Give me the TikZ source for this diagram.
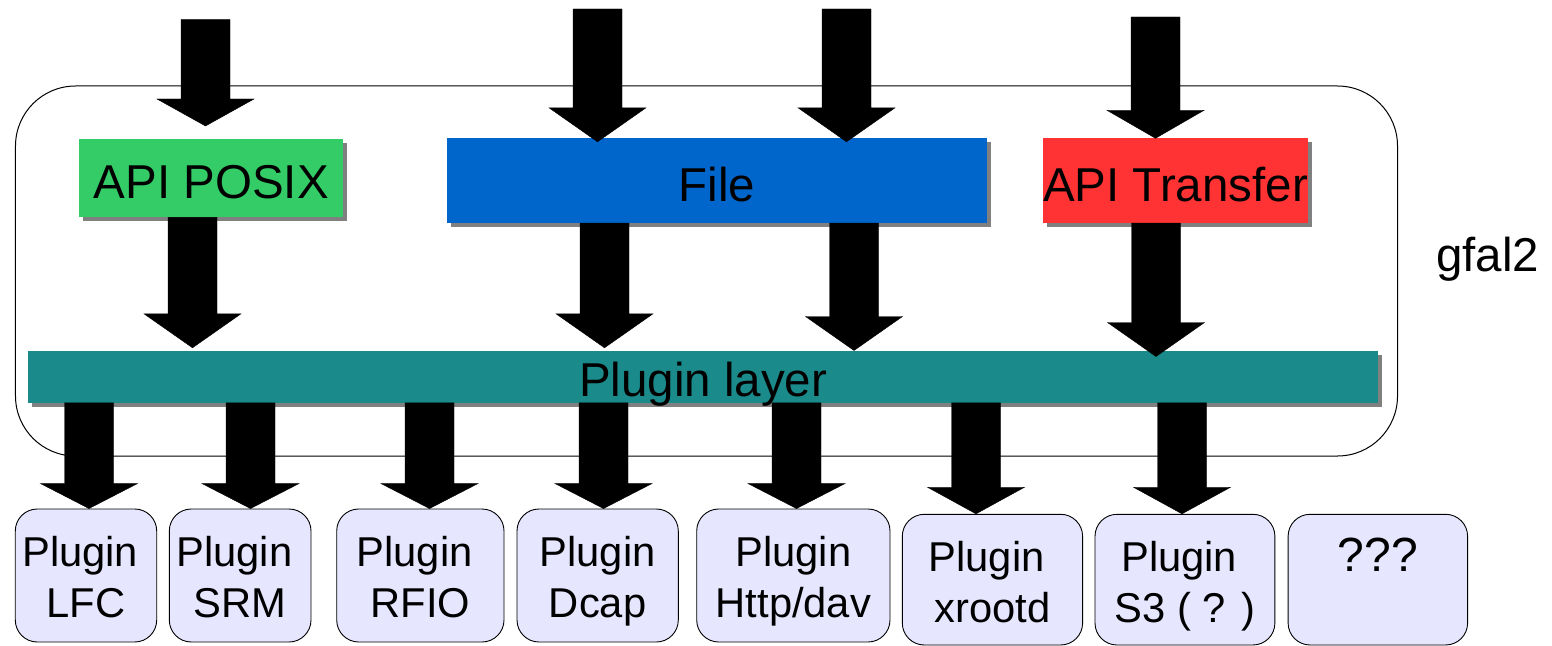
\documentclass[tikz,border=0pt]{standalone}
\usepackage{fontspec}
\setmainfont{Liberation Sans}
\usetikzlibrary{calc,shadows}
\definecolor{cgreen}{HTML}{33CC66}
\definecolor{cblue}{HTML}{0066CC}
\definecolor{cred}{HTML}{FF3333}
\definecolor{cteal}{HTML}{1A8A8A}
\definecolor{clav}{HTML}{E6E6FF}
\newcommand\plg{Plugin\phantom{\ }}
\begin{document}
\begin{tikzpicture}[x=1bp,y=-1bp,
  bigfont/.style={font=\fontsize{47.5bp}{57bp}\selectfont},
  layerbox/.style={bigfont, inner sep=0pt, text height=41bp, text depth=0pt,
    drop shadow={shadow xshift=4bp,shadow yshift=-4bp,fill=black!50,opacity=1}},
  plugbox/.style={draw=black, line width=0.9bp, fill=clav, rounded corners=22bp,
    inner sep=0pt, text height=0pt, text depth=18bp,
    font=\fontsize{41.7bp}{51bp}\selectfont},
  frame/.style={draw=black, line width=1bp, rounded corners=60bp, inner sep=0pt},
  fat/.style={draw=black, line width=0.4bp, fill=black,
    to path={let \p1=(\tikztostart), \p2=(\tikztotarget) in
      (\x1-24.5bp,\y1) -- (\x1+24.5bp,\y1) -- (\x1+24.5bp,\y2+#1bp) --
      (\x1+48.5bp,\y2+#1bp) -- (\x1,\y2) -- (\x1-48.5bp,\y2+#1bp) --
      (\x1-24.5bp,\y2+#1bp) -- cycle}},
  fat/.default=30]
\useasboundingbox (0,0) rectangle (1552,646);

% outer frame
\node[frame, minimum width=1382bp, minimum height=370bp] (gfalbox) at (706.5,271) {};
\node[bigfont, anchor=base, inner sep=0pt] (gfal) at (1487.5,271) {gfal2};

% API boxes
\node[layerbox, fill=cgreen, minimum width=264bp, minimum height=78bp] (posix) at (211.3,178.2) {API POSIX};
\node[layerbox, fill=cblue, minimum width=540bp, minimum height=84.5bp] (file) at (717,180.75) {File};
\node[layerbox, fill=cred, minimum width=265bp, minimum height=84.5bp] (transfer) at (1175.5,180.75) {\makebox[0pt][c]{API Transfer}};
\node[layerbox, fill=cteal, minimum width=1350bp, minimum height=52bp, text height=39bp] (layer) at (703.2,376.7) {Plugin layer};

% plugins
\node[plugbox, minimum width=141.4bp, minimum height=133bp] (p1) at (86,575.5)
  {\begin{tabular}[t]{@{}c@{}}\plg\\LFC\end{tabular}};
\node[plugbox, minimum width=141.7bp, minimum height=133bp] (p2) at (240.15,575.5)
  {\begin{tabular}[t]{@{}c@{}}\plg\\SRM\end{tabular}};
\node[plugbox, minimum width=167.3bp, minimum height=133bp] (p3) at (420.35,575.5)
  {\begin{tabular}[t]{@{}c@{}}\plg\\RFIO\end{tabular}};
\node[plugbox, minimum width=161.3bp, minimum height=133bp] (p4) at (597.65,575.5)
  {\begin{tabular}[t]{@{}c@{}}Plugin\\Dcap\end{tabular}};
\node[plugbox, minimum width=193.3bp, minimum height=133bp] (p5) at (793.35,575.5)
  {\begin{tabular}[t]{@{}c@{}}Plugin\\Http/dav\end{tabular}};
\node[plugbox, text depth=16bp, minimum width=180.3bp, minimum height=130.7bp] (p6) at (992.45,579.65)
  {\begin{tabular}[t]{@{}c@{}}\plg\\xrootd\end{tabular}};
\node[plugbox, text depth=16bp, minimum width=179.9bp, minimum height=130.7bp] (p7) at (1184.95,579.65)
  {\begin{tabular}[t]{@{}c@{}}\plg\\S3 ( ? )\end{tabular}};
\node[plugbox, text depth=16bp, minimum width=179.5bp, minimum height=130.7bp,
  font=\fontsize{48bp}{57bp}\selectfont] (p8) at (1377.85,579.65)
  {\begin{tabular}[t]{@{}c@{}}???\end{tabular}};

% top arrows
\coordinate (t1s) at (205.5,19.5);
\coordinate (t2s) at (597.5,9);
\coordinate (t3s) at (846.5,9);
\coordinate (t4s) at (1155.5,17);
\coordinate (t1e) at ($(t1s |- posix.north)+(0,-13)$);
\coordinate (t2e) at ($(t2s |- file.north)+(0,3.5)$);
\coordinate (t3e) at ($(t3s |- file.north)+(0,3.5)$);
\draw[fat=27] (t1s) to (t1e);
\draw[fat=34] (t2s) to (t2e);
\draw[fat=34] (t3s) to (t3e);
\draw[fat=28] (t4s) to (t4s |- transfer.north);

% middle arrows
\coordinate (m1e) at ($(192.5,0 |- layer.north)+(0,-2.7)$);
\coordinate (m2e) at ($(604.5,0 |- layer.north)+(0,-2.7)$);
\coordinate (m4e) at ($(1156,0 |- layer.north)+(0,6)$);
\draw[fat=34] (192.5,0 |- posix.south) to (m1e);
\draw[fat=34] (604.5,0 |- file.south) to (m2e);
\draw[fat=34] (854,0 |- file.south) to (854,0 |- layer.north);
\draw[fat=34] (1156,0 |- transfer.south) to (m4e);

% bottom arrows
\draw[fat=25] (89,0 |- layer.south) to (89,0 |- p1.north);
\draw[fat=25] (250.5,0 |- layer.south) to (250.5,0 |- p2.north);
\draw[fat=25] (429.5,0 |- layer.south) to (429.5,0 |- p3.north);
\draw[fat=25] (603.5,0 |- layer.south) to (603.5,0 |- p4.north);
\draw[fat=25] (796.5,0 |- layer.south) to (796.5,0 |- p5.north);
\draw[fat=26.6] (976,0 |- layer.south) to (976,0 |- p6.north);
\draw[fat=26.6] (1182,0 |- layer.south) to (1182,0 |- p7.north);
\end{tikzpicture}
\end{document}
